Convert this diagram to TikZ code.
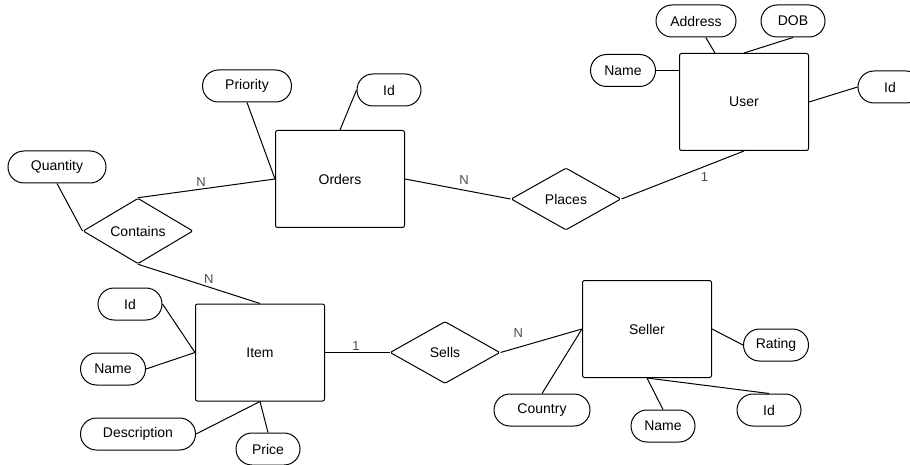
\documentclass[tikz,border=0pt]{standalone}
\usepackage{fontspec}
\setmainfont{Liberation Sans}
\usetikzlibrary{shapes.geometric}

\begin{document}
\begin{tikzpicture}[x=1pt,y=-1pt,
		every node/.style={font=\fontsize{14}{16}\selectfont},
		entity/.style={rectangle,draw=black,line width=1pt,rounded corners=2pt,minimum width=129pt,minimum height=97pt,inner sep=0pt},
		attr/.style={rectangle,draw=black,line width=1pt,rounded corners=16pt,minimum height=32pt,inner sep=0pt},
		rel/.style={diamond,draw=black,line width=1pt,rounded corners=1.5pt,minimum width=110pt,minimum height=62pt,inner sep=0pt},
		card/.style={font=\fontsize{13}{15}\selectfont,text=black!70,inner sep=2pt},
		link/.style={line width=1pt}]

	\useasboundingbox (0,0) rectangle (910,465);

	% entities
	\node[entity] (user) at (744,102) {User};
	\node[entity] (orders) at (340,179) {Orders};
	\node[entity] (item) at (260,352.5) {Item};
	\node[entity] (seller) at (647,329) {Seller};

	% relationships
	\node[rel] (places) at (566,199) {Places};
	\node[rel] (contains) at (138,231) {Contains};
	\node[rel] (sells) at (445,352.5) {Sells};

	% attributes
	\node[attr,minimum width=80pt] (address) at (696,21) {Address};
	\node[attr,minimum width=64pt] (dob) at (793,21) {DOB};
	\node[attr,minimum width=65pt] (uname) at (623,70.5) {Name};
	\node[attr,minimum width=64pt] (uid) at (890,87) {Id};
	\node[attr,minimum width=89pt] (priority) at (247,86) {Priority};
	\node[attr,minimum width=64pt] (oid) at (389,90) {Id};
	\node[attr,minimum width=98pt] (quantity) at (57,167) {Quantity};
	\node[attr,minimum width=64pt] (iid) at (130,304) {Id};
	\node[attr,minimum width=65pt] (iname) at (113,369) {Name};
	\node[attr,minimum width=115pt] (descr) at (138,434) {Description};
	\node[attr,minimum width=64pt] (price) at (268,449) {Price};
	\node[attr,minimum width=96pt] (country) at (542,410) {Country};
	\node[attr,minimum width=64pt] (sname) at (663,426) {Name};
	\node[attr,minimum width=64pt] (sid) at (769,410) {Id};
	\node[attr,minimum width=65pt] (rating) at (776,345) {Rating};

	% user
	\draw[link] (address) -- (user);
	\draw[link] (dob.south) -- (user.north);
	\draw[link] (uname.east) -- (uname.east -| user.west);
	\draw[link] (user.east) -- (uid.west);
	\draw[link] (places.east) -- node[card,pos=0.62,below right=1pt] {1} (user.south);

	% orders
	\draw[link] (orders.east) -- node[card,pos=0.56,above=3pt] {N} (places.west);
	\draw[link] (priority.south) -- (orders.west);
	\draw[link] (oid.west) -- (orders.north);

	% contains
	\draw[link] (contains.north) -- node[card,pos=0.46,above] {N} (orders.west);
	\draw[link] (quantity.south) -- (contains.west);
	\draw[link] (contains.south) -- node[card,pos=0.58,above=1pt] {N} (item.north);

	% item
	\draw[link] (iid.east) -- (item.west);
	\draw[link] (iname.east) -- (item.west);
	\draw[link] (descr.east) -- (item.south);
	\draw[link] (price.north) -- (item.south);
	\draw[link] (item.east) -- node[card,pos=0.48,above] {1} (sells.west);

	% seller
	\draw[link] (sells.east) -- node[card,pos=0.22,above=7pt] {N} (seller.west);
	\draw[link] (seller.east) -- (rating.west);
	\draw[link] (country.north) -- (seller.west);
	\draw[link] (sname.north) -- (seller.south);
	\draw[link] (sid.north) -- (seller.south);
\end{tikzpicture}
\end{document}
